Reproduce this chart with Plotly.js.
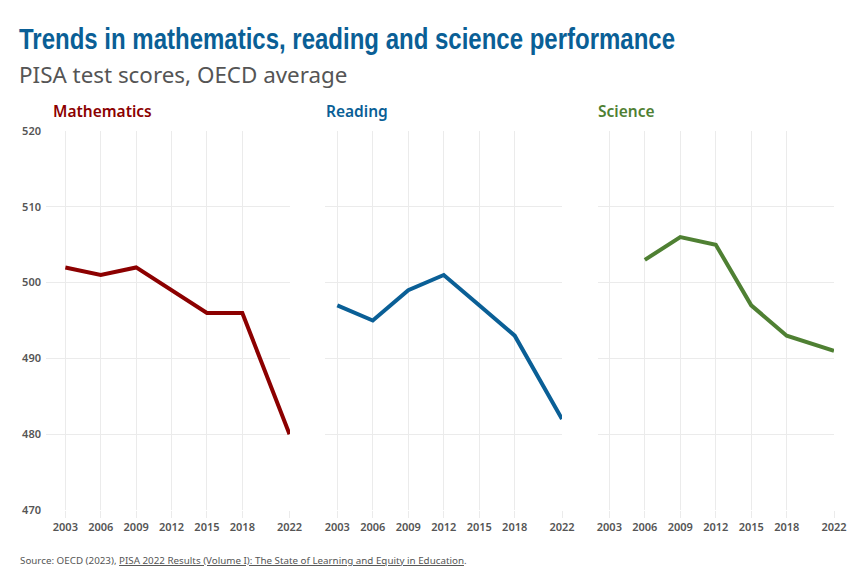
<!DOCTYPE html>
<html>
<head>
<meta charset="utf-8">
<script src="https://cdn.plot.ly/plotly-3.0.1.min.js"></script>
<style>html,body{margin:0;padding:0;background:#fff;}#chart{width:864px;height:576px;}</style>
</head>
<body>
<div id="chart"></div>
<script>
// ---- data ----
const years = [2003, 2006, 2009, 2012, 2015, 2018, 2022];
const mathScores = [502, 501, 502, 499, 496, 496, 480];
const readingScores = [497, 495, 499, 501, 497, 493, 482];
const scienceYears = [2006, 2009, 2012, 2015, 2018, 2022];
const scienceScores = [503, 506, 505, 497, 493, 491];
const xTickLabels = ['2003', '2006', '2009', '2012', '2015', '2018', '2022'];
const yTicks = [470, 480, 490, 500, 510, 520];
const panelTitles = ['Mathematics', 'Reading', 'Science'];

// ---- geometry helpers ----
const W = 864, H = 576;
const M = {l: 46, r: 30, t: 131, b: 66};
const PW = W - M.l - M.r, PH = H - M.t - M.b;
const px = x => (x - M.l) / PW;
const py = y => (H - M.b - y) / PH;

const cMath = '#8c0000', cRead = '#0a5f96', cSci = '#4f8033';
const grid = '#ebebeb';
const tickFont = {family: 'Noto Sans', size: 11, color: '#555', weight: 600};

function xaxis(domain, range) {
  return {
    domain: domain, range: range, tickmode: 'array', tickvals: years, ticktext: xTickLabels,
    showgrid: true, gridcolor: grid, gridwidth: 1, zeroline: false, showline: false,
    ticks: 'outside', ticklen: 7, tickcolor: grid, tickfont: tickFont, fixedrange: true
  };
}
function yaxis(anchor, showLabels) {
  return {
    anchor: anchor, range: [470, 520], tickmode: 'array', tickvals: yTicks,
    showticklabels: showLabels, showgrid: true, gridcolor: grid, gridwidth: 1,
    zeroline: false, showline: false, ticks: '', tickfont: tickFont, ticklabelstandoff: 4,
    fixedrange: true
  };
}

const traces = [
  {x: years, y: mathScores, xaxis: 'x', yaxis: 'y', type: 'scatter', mode: 'lines',
   line: {color: cMath, width: 4}},
  {x: years, y: readingScores, xaxis: 'x2', yaxis: 'y2', type: 'scatter', mode: 'lines',
   line: {color: cRead, width: 4}},
  {x: scienceYears, y: scienceScores, xaxis: 'x3', yaxis: 'y3', type: 'scatter', mode: 'lines',
   line: {color: cSci, width: 4}}
];

const ann = (text, x, y, font, extra) => Object.assign({
  text: text, xref: 'paper', yref: 'paper', x: px(x), y: py(y),
  xanchor: 'left', yanchor: 'middle', showarrow: false, font: font, borderpad: 0
}, extra || {});

const layout = {
  width: W, height: H, margin: M, showlegend: false,
  paper_bgcolor: '#fff', plot_bgcolor: '#fff',
  xaxis: xaxis([0, px(290)], [2001.36, 2022.04]),
  xaxis2: xaxis([px(325), px(562)], [2001.96, 2022.0]),
  xaxis3: xaxis([px(598), px(834)], [2002.04, 2022.0]),
  yaxis: yaxis('x', true),
  yaxis2: yaxis('x2', false),
  yaxis3: yaxis('x3', false),
  annotations: [
    ann('Trends in mathematics, reading and science performance', 18, 38,
        {family: 'Liberation Sans', size: 30, color: '#0a5f96', weight: 700}),
    ann('PISA test scores, OECD average', 18, 74,
        {family: 'Noto Sans', size: 22.4, color: '#555'}),
    ann(panelTitles[0], 52, 111, {family: 'Noto Sans', size: 15.5, color: cMath, weight: 600}),
    ann(panelTitles[1], 325, 111, {family: 'Noto Sans', size: 15.5, color: cRead, weight: 600}),
    ann(panelTitles[2], 597, 111, {family: 'Noto Sans', size: 15.5, color: cSci, weight: 600}),
    ann('Source: OECD (2023), <span style="text-decoration:underline">PISA 2022 Results (Volume I): The State of Learning and Equity in Education</span>.',
        19, 560, {family: 'Noto Sans', size: 9.8, color: '#555'})
  ]
};

Plotly.newPlot('chart', traces, layout, {displayModeBar: false, staticPlot: true}).then(gd => {
  // condense the headline horizontally (the original uses a condensed typeface)
  const t = gd.querySelector('.annotation[data-index="0"] .annotation-text');
  if (t) {
    const bb = t.getBBox();
    t.setAttribute('text-anchor', 'start');
    t.setAttribute('x', bb.x);
    t.querySelectorAll('tspan').forEach(s => { if (s.hasAttribute('x')) s.setAttribute('x', bb.x); });
    t.setAttribute('textLength', '656');
    t.setAttribute('lengthAdjust', 'spacingAndGlyphs');
  }
});
</script>
</body>
</html>
